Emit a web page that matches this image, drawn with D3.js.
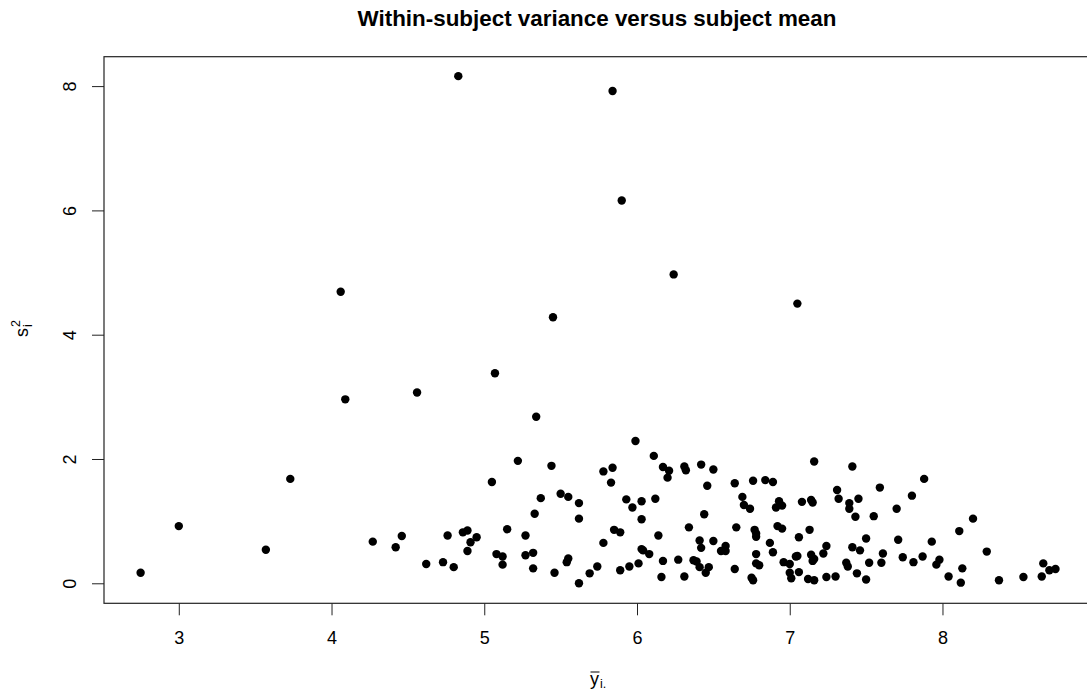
<!DOCTYPE html>
<html>
<head>
<meta charset="utf-8">
<script src="https://cdn.jsdelivr.net/npm/d3@7"></script>
<style>
  body { margin: 0; background: #fff; }
  text { font-family: "Liberation Sans", Arial, sans-serif; }
</style>
</head>
<body>
<div id="chart"></div>
<script>
// subject means (x) and within-subject variances (y)
const subjectMean = [
  2.75, 3.00, 3.57, 3.73,
  4.06, 4.09, 4.56, 4.83, 5.07, 5.34, 5.45, 5.84, 5.90, 6.24, 7.05,
  4.27, 4.42, 4.46, 4.62, 4.73, 4.76, 4.80, 4.86, 4.89, 4.91, 4.95, 4.89,
  5.05, 5.22, 5.15, 5.08, 5.12, 5.12, 5.27, 5.27, 5.32, 5.32, 5.33, 5.37,
  5.44, 5.50, 5.55, 5.62, 5.62, 5.46, 5.55, 5.54, 5.62, 5.69, 5.74, 5.78,
  5.78, 5.83,
  5.84, 5.99, 6.11, 6.17, 6.21, 6.20, 6.31, 6.32, 6.42, 6.50, 6.46, 5.93,
  5.97, 6.03, 6.12, 6.03, 5.85, 5.89, 6.14, 6.34, 6.44, 6.64, 6.76, 6.84,
  6.89, 7.16, 7.41, 6.69, 6.70, 6.74, 6.93, 6.95, 6.91, 7.08, 7.14, 7.15,
  7.31, 7.32, 7.39, 7.39, 7.43, 7.45, 6.65, 6.77, 6.78, 6.78, 6.92, 6.95,
  7.06, 7.13, 6.87, 6.89, 6.03, 6.04, 6.08, 6.41, 6.42, 6.50, 6.58, 6.55,
  6.58, 6.78, 6.78, 6.80, 6.96, 7.00, 7.00, 7.01, 7.06, 7.04, 7.05, 7.14,
  7.15, 7.16, 7.22, 7.24, 7.12, 7.16, 7.24, 7.30, 7.37, 7.38, 7.41, 7.44,
  7.46, 5.89, 5.95, 6.01, 6.17, 6.16, 6.27, 6.31, 6.37, 6.39, 6.41, 6.45,
  6.47, 6.64, 6.75, 6.76,
  7.59, 7.88, 7.80, 7.55, 7.70, 8.20, 8.11, 7.50, 7.71, 7.93, 7.61, 7.74,
  7.81, 7.87, 7.98, 7.96, 7.52, 7.60, 8.29, 8.13, 8.04, 8.12, 7.50, 8.37,
  8.53, 8.65, 8.66, 8.70, 8.74
];
const subjectVar = [
  0.17, 0.92, 0.54, 1.68,
  4.69, 2.96, 3.07, 8.16, 3.38, 2.68, 4.28, 7.92, 6.16, 4.97, 4.50,
  0.67, 0.58, 0.76, 0.31, 0.34, 0.77, 0.26, 0.82, 0.85, 0.66, 0.74, 0.52,
  1.63, 1.97, 0.87, 0.47, 0.43, 0.30, 0.77, 0.45, 0.49, 0.24, 1.12, 1.37,
  1.89, 1.44, 1.39, 1.29, 1.04, 0.17, 0.40, 0.34, 0.00, 0.16, 0.27, 0.65,
  1.80, 1.62,
  1.86, 2.29, 2.05, 1.87, 1.81, 1.70, 1.88, 1.82, 1.91, 1.83, 1.57, 1.35,
  1.22, 1.32, 1.36, 1.03, 0.86, 0.82, 0.77, 0.90, 1.11, 1.61, 1.65, 1.66,
  1.63, 1.96, 1.88, 1.39, 1.26, 1.20, 1.32, 1.25, 1.22, 1.31, 1.34, 1.30,
  1.50, 1.36, 1.29, 1.20, 1.07, 1.36, 0.90, 0.86, 0.80, 0.75, 0.92, 0.88,
  0.74, 0.86, 0.65, 0.50, 0.55, 0.53, 0.47, 0.69, 0.57, 0.68, 0.60, 0.52,
  0.52, 0.47, 0.32, 0.29, 0.34, 0.31, 0.17, 0.08, 0.18, 0.43, 0.44, 0.46,
  0.36, 0.39, 0.48, 0.60, 0.07, 0.05, 0.10, 0.11, 0.33, 0.27, 0.58, 0.16,
  0.53, 0.21, 0.27, 0.32, 0.36, 0.10, 0.38, 0.11, 0.37, 0.35, 0.26, 0.17,
  0.26, 0.23, 0.09, 0.05,
  1.54, 1.68, 1.41, 1.08, 1.20, 1.04, 0.84, 0.72, 0.70, 0.67, 0.48, 0.42,
  0.34, 0.43, 0.38, 0.30, 0.33, 0.33, 0.51, 0.24, 0.11, 0.01, 0.06, 0.05,
  0.10, 0.11, 0.32, 0.21, 0.23
];
const xTickValues = [3, 4, 5, 6, 7, 8];
const yTickValues = [0, 2, 4, 6, 8];
const chartTitle = "Within-subject variance versus subject mean";

const canvas = {
  width: 1087, height: 696,
  margin: { top: 56.7, left: 104, right: 1087 - 1092, bottom: 696 - 603.3 }
};
const plotW = canvas.width - canvas.margin.left - canvas.margin.right;
const plotH = canvas.height - canvas.margin.top - canvas.margin.bottom;

const svg = d3.select("#chart").append("svg")
  .attr("width", canvas.width).attr("height", canvas.height)
  .style("display", "block");

svg.append("rect").attr("width", canvas.width).attr("height", canvas.height).attr("fill", "#fff");

const g = svg.append("g").attr("transform", `translate(${canvas.margin.left},${canvas.margin.top})`);

const x = d3.scaleLinear().domain([2.5103, 8.979]).range([0, plotW]);
const y = d3.scaleLinear().domain([-0.322, 8.473]).range([plotH, 0]);

// x axis
const xAxis = g.append("g").attr("transform", `translate(0,${plotH})`)
  .call(d3.axisBottom(x).tickValues(xTickValues).tickFormat(d3.format("d"))
    .tickSize(12).tickSizeOuter(0).tickPadding(16.3));
xAxis.select(".domain").remove();
xAxis.selectAll("line").attr("stroke", "#222").attr("stroke-width", 1);
xAxis.selectAll("text").attr("font-size", "18px").attr("fill", "#000")
  .attr("font-family", "Liberation Sans, Arial, sans-serif");

// y axis with rotated labels
const yAxis = g.append("g")
  .call(d3.axisLeft(y).tickValues(yTickValues).tickFormat(d3.format("d"))
    .tickSize(12).tickSizeOuter(0));
yAxis.select(".domain").remove();
yAxis.selectAll("line").attr("stroke", "#222").attr("stroke-width", 1);
yAxis.selectAll("text").attr("font-size", "18px").attr("fill", "#000")
  .attr("font-family", "Liberation Sans, Arial, sans-serif")
  .attr("x", null).attr("dy", null)
  .attr("text-anchor", "middle")
  .attr("transform", "translate(-28.5,0) rotate(-90)");

// frame
g.append("rect").attr("x", 0).attr("y", 0).attr("width", plotW).attr("height", plotH)
  .attr("fill", "none").attr("stroke", "#222").attr("stroke-width", 1.2);

// points
g.selectAll(".pt").data(d3.zip(subjectMean, subjectVar)).enter().append("circle")
  .attr("class", "pt")
  .attr("cx", d => x(d[0])).attr("cy", d => y(d[1])).attr("r", 4.2)
  .attr("fill", "#000");

// title
const titleX = canvas.margin.left + plotW / 2;
svg.append("text").attr("x", titleX - 1).attr("y", 26)
  .attr("text-anchor", "middle").attr("font-size", "22.4px").attr("font-weight", "bold")
  .text(chartTitle);

// x label: y-bar with subscript "i."
const xl = svg.append("g").attr("transform", `translate(${titleX - 8},685)`);
xl.append("text").attr("x", 0).attr("y", 0).attr("font-size", "18px").text("y");
xl.append("line").attr("x1", 0.5).attr("x2", 9.5).attr("y1", -13).attr("y2", -13)
  .attr("stroke", "#000").attr("stroke-width", 1);
xl.append("text").attr("x", 10).attr("y", 3).attr("font-size", "12.5px").text("i.");

// y label: s with subscript i and superscript 2
const yl = svg.append("g").attr("transform", "translate(28,337) rotate(-90)");
yl.append("text").attr("x", 0).attr("y", 0).attr("font-size", "18px").text("s");
yl.append("text").attr("x", 10).attr("y", -8.5).attr("font-size", "12.5px").text("2");
yl.append("text").attr("x", 10).attr("y", 4).attr("font-size", "12.5px").text("i");
</script>
</body>
</html>
